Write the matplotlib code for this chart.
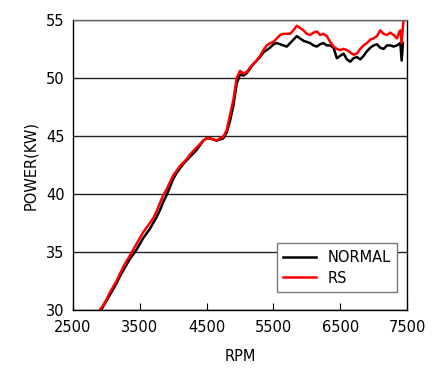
import matplotlib
matplotlib.use("Agg")
import matplotlib.pyplot as plt

rpm_rs = [2900, 2950, 3000, 3050, 3100, 3150, 3200, 3250, 3300, 3350, 3400, 3450, 3500,
          3550, 3600, 3650, 3700, 3750, 3800, 3850, 3900, 3950, 4000, 4050, 4100, 4150,
          4200, 4250, 4300, 4350, 4400, 4450, 4500, 4550, 4600, 4650, 4700, 4750, 4800,
          4850, 4900, 4950, 5000, 5050, 5100, 5150, 5200, 5250, 5300, 5350, 5400, 5450,
          5500, 5550, 5600, 5650, 5700, 5750, 5800, 5850, 5900, 5950, 6000, 6050, 6100,
          6150, 6200, 6250, 6300, 6350, 6400, 6450, 6500, 6550, 6600, 6650, 6700, 6750,
          6800, 6850, 6900, 6950, 7000, 7050, 7100, 7150, 7200, 7250, 7300, 7350, 7380,
          7400, 7420, 7440, 7450]
kw_rs = [30.0, 30.4, 30.9, 31.5, 32.0, 32.5, 33.1, 33.7, 34.2, 34.7, 35.2, 35.7, 36.2,
         36.7, 37.1, 37.5, 37.9, 38.5, 39.2, 39.9, 40.4, 41.0, 41.6, 42.0, 42.4, 42.7,
         43.0, 43.4, 43.7, 44.0, 44.3, 44.6, 44.8, 44.8, 44.7, 44.6, 44.8, 44.95, 45.5,
         46.8, 48.1, 50.0, 50.6, 50.4, 50.5, 50.9, 51.2, 51.5, 51.9, 52.4, 52.8, 53.0,
         53.1, 53.4, 53.7, 53.8, 53.8, 53.8, 54.1, 54.5, 54.3, 54.1, 53.8, 53.7, 53.9,
         54.0, 53.7, 53.8, 53.6, 53.1, 52.7, 52.5, 52.4, 52.5, 52.4, 52.2, 52.0, 52.1,
         52.5, 52.8, 53.0, 53.3, 53.4, 53.6, 54.1, 53.8, 53.7, 53.9, 53.7, 53.4, 53.9,
         54.1, 53.0, 54.5, 55.0]

rpm_normal = [2920, 2950, 3000, 3050, 3100, 3150, 3200, 3250, 3300, 3350, 3400, 3450, 3500,
              3550, 3600, 3650, 3700, 3750, 3800, 3850, 3900, 3950, 4000, 4050, 4100, 4150,
              4200, 4250, 4300, 4350, 4400, 4450, 4500, 4550, 4600, 4650, 4700, 4750, 4800,
              4850, 4900, 4950, 5000, 5050, 5100, 5150, 5200, 5250, 5300, 5350, 5400, 5450,
              5500, 5550, 5600, 5650, 5700, 5750, 5800, 5850, 5900, 5950, 6000, 6050, 6100,
              6150, 6200, 6250, 6300, 6350, 6400, 6450, 6500, 6550, 6600, 6650, 6700, 6750,
              6800, 6850, 6900, 6950, 7000, 7050, 7100, 7150, 7200, 7250, 7300, 7350, 7400,
              7420, 7440]
kw_normal = [30.0, 30.3, 30.8, 31.3, 31.8, 32.3, 32.9, 33.4, 33.9, 34.4, 34.8, 35.2, 35.7,
             36.2, 36.6, 37.0, 37.5, 38.0, 38.6, 39.3, 39.9, 40.6, 41.3, 41.8, 42.2, 42.6,
             42.9, 43.2, 43.5, 43.8, 44.2, 44.6, 44.8, 44.8, 44.7, 44.6, 44.7, 44.8, 45.3,
             46.3, 47.6, 49.5, 50.3, 50.2, 50.4, 50.8, 51.2, 51.5, 51.8, 52.2, 52.4, 52.6,
             52.9, 53.0, 52.9, 52.8, 52.7, 53.0, 53.3, 53.6, 53.4, 53.2, 53.1, 53.0, 52.8,
             52.7, 52.9, 53.0, 52.8, 52.8, 52.6, 51.7, 51.9, 52.1, 51.6, 51.4, 51.7, 51.8,
             51.6, 51.9, 52.3, 52.6, 52.8, 52.9, 52.6, 52.5, 52.8, 52.8, 52.7, 52.8, 53.0,
             51.5, 53.0]

x_ticks = [2500, 3500, 4500, 5500, 6500, 7500]
y_ticks = [30, 35, 40, 45, 50, 55]

fig = plt.figure(figsize=(4.4, 3.75), dpi=100)
ax = fig.add_axes([0.166, 0.173, 0.759, 0.774])

ax.plot(rpm_normal, kw_normal, color="black", lw=1.8, label="NORMAL")
ax.plot(rpm_rs, kw_rs, color="#ff0000", lw=1.8, label="RS")

ax.set_xlim(2500, 7500)
ax.set_ylim(30, 55)
ax.set_xticks(x_ticks)
ax.set_yticks(y_ticks)
ax.tick_params(axis="x", direction="in", length=5, labelsize=10.5, pad=7)
ax.tick_params(axis="y", length=0, labelsize=10.5, pad=6)
ax.yaxis.grid(True, color="#222222", lw=1)
ax.set_axisbelow(True)
for s in ax.spines.values():
    s.set_color("black")
    s.set_linewidth(1)
ax.spines["top"].set_color("#666666")

ax.set_xlabel("RPM", fontsize=10.5, labelpad=10)
ax.set_ylabel("POWER(KW)", fontsize=10.5, labelpad=6)

leg = ax.legend(loc="lower right", bbox_to_anchor=(0.902, 0.221), bbox_transform=fig.transFigure,
                fontsize=10.5, frameon=True, fancybox=False, handlelength=2.2,
                borderpad=0.45, labelspacing=0.4, borderaxespad=0, framealpha=1)
leg.get_frame().set_edgecolor("#777777")
leg.get_frame().set_linewidth(1)

fig.savefig("out.png", dpi=100)
